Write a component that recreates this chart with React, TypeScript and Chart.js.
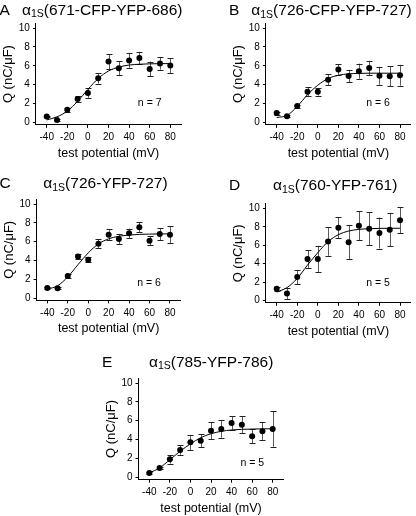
import React, { useEffect, useRef } from "react";
import { Chart, registerables } from "chart.js";

Chart.register(...registerables);

// ---------- data ----------
const voltages = [-40, -30, -20, -10, 0, 10, 20, 30, 40, 50, 60, 70, 80];
const xTickValues = [-40, -20, 0, 20, 40, 60, 80];
const yTickValues = [0, 2, 4, 6, 8, 10];

const panelLetters = ["A", "B", "C", "D", "E"];
const constructNames = ["(671-CFP-YFP-686)", "(726-CFP-YFP-727)", "(726-YFP-727)", "(760-YFP-761)", "(785-YFP-786)"];
const subunitSymbol = "α";
const subunitSub = "1S";
const nLabels = ["n = 7", "n = 6", "n = 6", "n = 5", "n = 5"];

const qA = [0.64, 0.28, 1.35, 2.48, 3.12, 4.68, 6.45, 5.74, 6.56, 6.84, 5.67, 6.24, 6.03];
const errA = [0.1, 0.1, 0.2, 0.28, 0.5, 0.55, 0.8, 0.72, 0.75, 0.65, 0.78, 0.65, 0.8];
const fitA = [0.28, 0.6, 1.22, 2.24, 3.51, 4.66, 5.45, 5.87, 6.08, 6.17, 6.21, 6.23, 6.24];

const qB = [1.0, 0.67, 1.74, 3.26, 3.26, 4.54, 5.6, 4.93, 5.43, 5.78, 4.96, 4.89, 5.0];
const errB = [0.15, 0.1, 0.15, 0.45, 0.4, 0.6, 0.55, 0.65, 0.8, 0.75, 0.95, 1.05, 1.1];
const fitB = [0.53, 0.75, 1.7, 2.95, 3.95, 4.65, 5.0, 5.15, 5.2, 5.22, 5.22, 5.22, 5.22];

const qC = [1.06, 1.03, 2.34, 4.43, 4.08, 5.78, 6.74, 6.28, 6.88, 7.52, 6.1, 6.8, 6.74];
const errC = [0.1, 0.1, 0.2, 0.25, 0.3, 0.45, 0.6, 0.55, 0.5, 0.55, 0.5, 0.65, 0.9];
const fitC = [0.95, 1.3, 2.25, 3.55, 4.8, 5.75, 6.3, 6.57, 6.7, 6.77, 6.8, 6.82, 6.82];

const qD = [1.28, 0.77, 2.56, 4.5, 4.5, 6.41, 7.91, 6.34, 8.13, 7.8, 7.33, 7.69, 8.72];
const errD = [0.2, 0.6, 0.77, 0.95, 1.45, 1.55, 1.14, 1.87, 1.6, 1.78, 1.68, 1.8, 1.43];
const fitD = [0.92, 1.4, 2.4, 3.85, 5.2, 6.4, 7.15, 7.55, 7.73, 7.8, 7.84, 7.85, 7.85];

const qE = [0.46, 0.99, 1.91, 2.9, 3.71, 3.89, 4.95, 5.12, 5.76, 5.58, 4.35, 4.88, 5.12];
const errE = [0.1, 0.1, 0.45, 0.5, 0.8, 0.67, 0.87, 0.92, 0.7, 0.92, 0.75, 0.94, 1.87];
const fitE = [0.46, 1.0, 1.87, 2.76, 3.55, 4.2, 4.62, 4.88, 5.02, 5.09, 5.12, 5.14, 5.15];

const seriesQ = [qA, qB, qC, qD, qE];
const seriesErr = [errA, errB, errC, errD, errE];
const seriesFit = [fitA, fitB, fitC, fitD, fitE];

// ---------- layout (page pixels) ----------
const FONT = "'Liberation Sans', Arial, Helvetica, sans-serif";
const layouts = [
  { area: { l: 35.9, r: 181.1, t: 23.3, b: 124.9 }, letter: [-0.5, 9.5], title: [22, 9.5], nPos: [60, 2.05] },
  { area: { l: 265.9, r: 410.8, t: 23.3, b: 124.9 }, letter: [229, 10], title: [251.3, 10], nPos: [58.6, 2.03] },
  { area: { l: 36.6, r: 180.7, t: 199.3, b: 300.4 }, letter: [-0.5, 183.3], title: [43.3, 183.3], nPos: [59.5, 1.63] },
  { area: { l: 265.9, r: 410.8, t: 203.9, b: 302.8 }, letter: [229, 185], title: [273, 185], nPos: [58.6, 1.87] },
  { area: { l: 138.5, r: 283.5, t: 378.3, b: 479.7 }, letter: [102, 361.7], title: [149, 361.7], nPos: [60.2, 1.55] },
];

const YW = 35; // y-axis box width
const XH = 36; // x-axis box height
const PADL = 3, PADT = 12, PADR = 4, PADB = 2;

function Panel({ idx }: { idx: number }) {
  const ref = useRef<HTMLCanvasElement>(null);
  const lay = layouts[idx];
  const a = lay.area;
  const cl = Math.floor(a.l - YW - PADL);
  const ct = Math.floor(a.t - PADT);
  const cr = Math.ceil(a.r + PADR);
  const cb = Math.ceil(a.b + XH + PADB);
  const w = cr - cl;
  const h = cb - ct;

  useEffect(() => {
    const q = seriesQ[idx];
    const err = seriesErr[idx];
    const fit = seriesFit[idx];

    const errorBars = {
      id: "errorBars",
      beforeDatasetsDraw(chart: any) {
        const ctx = chart.ctx;
        const xs = chart.scales.x;
        const ys = chart.scales.y;
        ctx.save();
        voltages.forEach((v, i) => {
          const x = Math.round(xs.getPixelForValue(v)) + 0.5;
          const yTop = ys.getPixelForValue(q[i] + err[i]);
          const yBot = ys.getPixelForValue(q[i] - err[i]);
          ctx.lineWidth = 1;
          ctx.strokeStyle = "#5a5a5a";
          ctx.beginPath();
          ctx.moveTo(x, yTop);
          ctx.lineTo(x, yBot);
          ctx.stroke();
          ctx.strokeStyle = "#222";
          ctx.beginPath();
          const t = Math.round(yTop) + 0.5;
          const b = Math.round(yBot) + 0.5;
          ctx.moveTo(x - 3, t);
          ctx.lineTo(x + 3, t);
          ctx.moveTo(x - 3, b);
          ctx.lineTo(x + 3, b);
          ctx.stroke();
        });
        ctx.restore();
      },
    };

    const nLabel = {
      id: "nLabel",
      afterDraw(chart: any) {
        const ctx = chart.ctx;
        const x = chart.scales.x.getPixelForValue(lay.nPos[0]);
        const y = chart.scales.y.getPixelForValue(lay.nPos[1]);
        ctx.save();
        ctx.font = `10.5px ${FONT}`;
        ctx.fillStyle = "#000";
        ctx.textAlign = "center";
        ctx.textBaseline = "middle";
        ctx.fillText(nLabels[idx], x, y);
        ctx.restore();
      },
    };

    const chart = new Chart(ref.current as HTMLCanvasElement, {
      type: "line",
      data: {
        datasets: [
          {
            data: voltages.map((v, i) => ({ x: v, y: q[i] })),
            showLine: false,
            pointRadius: 3,
            pointBackgroundColor: "#000",
            pointBorderColor: "#000",
            pointBorderWidth: 0,
            borderColor: "#000",
            order: 0,
          },
          {
            data: voltages.map((v, i) => ({ x: v, y: fit[i] })),
            borderColor: "#000",
            borderWidth: 1,
            pointRadius: 0,
            cubicInterpolationMode: "monotone",
            fill: false,
            order: 1,
          },
        ],
      } as any,
      options: {
        animation: false,
        responsive: false,
        devicePixelRatio: 1,
        events: [],
        layout: {
          padding: {
            left: a.l - YW - cl,
            top: a.t - ct,
            right: cr - a.r,
            bottom: cb - a.b - XH,
          },
        },
        plugins: { legend: { display: false }, tooltip: { enabled: false } },
        scales: {
          x: {
            type: "linear",
            min: -50.5,
            max: 90.5,
            afterBuildTicks: (s: any) => {
              s.ticks = xTickValues.map((v) => ({ value: v }));
            },
            afterFit: (s: any) => {
              s.height = XH;
            },
            grid: { display: true, drawOnChartArea: false, drawTicks: true, tickLength: 3, color: "#000", lineWidth: 1 },
            border: { display: true, color: "#000", width: 1 },
            ticks: {
              font: { family: FONT, size: 10 },
              color: "#000",
              padding: 3.7,
              maxRotation: 0,
              minRotation: 0,
              autoSkip: false,
              callback: (v: any) => String(v),
            },
            title: {
              display: true,
              text: "test potential (mV)",
              font: { family: FONT, size: 12.5 },
              color: "#000",
              padding: 0,
            },
          },
          y: {
            type: "linear",
            min: -0.25,
            max: 10.5,
            afterBuildTicks: (s: any) => {
              s.ticks = yTickValues.map((v) => ({ value: v }));
            },
            afterFit: (s: any) => {
              s.width = YW;
            },
            grid: { display: true, drawOnChartArea: false, drawTicks: true, tickLength: 3, color: "#000", lineWidth: 1 },
            border: { display: true, color: "#000", width: 1 },
            ticks: {
              font: { family: FONT, size: 10 },
              color: "#000",
              padding: 3,
              callback: (v: any) => String(v),
            },
            title: {
              display: true,
              text: "Q (nC/μF)",
              font: { family: FONT, size: 13 },
              color: "#000",
              padding: 0,
            },
          },
        },
      } as any,
      plugins: [errorBars, nLabel],
    });
    return () => chart.destroy();
  }, [idx]);

  return (
    <>
      <canvas
        ref={ref}
        width={w}
        height={h}
        style={{ position: "absolute", left: cl, top: ct, width: w, height: h }}
      />
      <div
        style={{
          position: "absolute",
          left: lay.letter[0],
          top: lay.letter[1] - 10,
          height: 20,
          lineHeight: "20px",
          fontSize: 15.5,
          fontFamily: FONT,
          whiteSpace: "nowrap",
          color: "#000",
        }}
      >
        {panelLetters[idx]}
      </div>
      <div
        style={{
          position: "absolute",
          left: lay.title[0],
          top: lay.title[1] - 10,
          height: 20,
          lineHeight: "20px",
          fontSize: 15.5,
          fontFamily: FONT,
          whiteSpace: "nowrap",
          color: "#000",
        }}
      >
        {subunitSymbol}
        <span style={{ fontSize: 10.5, position: "relative", top: 2.5 }}>{subunitSub}</span>
        {constructNames[idx]}
      </div>
    </>
  );
}

export default function App() {
  return (
    <div
      style={{
        position: "absolute",
        left: 0,
        top: 0,
        width: 416,
        height: 516,
        overflow: "hidden",
        background: "#fff",
      }}
    >
      {panelLetters.map((_, i) => (
        <Panel key={i} idx={i} />
      ))}
    </div>
  );
}
